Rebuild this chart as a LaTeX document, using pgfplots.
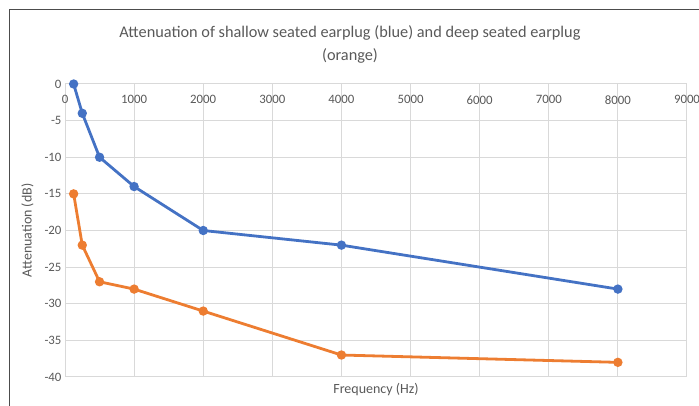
\documentclass[border=0pt]{standalone}
\usepackage{pgfplots}
\pgfplotsset{compat=1.18}
\usepackage{fontspec}
\setmainfont{Carlito}
\definecolor{xlblue}{HTML}{4472C4}
\definecolor{xlorange}{HTML}{ED7D31}
\definecolor{xlgrid}{HTML}{D9D9D9}
\definecolor{xltext}{HTML}{595959}
\begin{document}
\begin{tikzpicture}
\node[text=xltext, font=\fontsize{16.3}{23}\selectfont, align=center] at (350pt,362pt)
  {Attenuation of shallow seated earplug (blue) and deep seated earplug\\(orange)};
\begin{axis}[
  at={(65pt,29pt)}, anchor=south west,
  scale only axis, width=622pt, height=293pt,
  xmin=0, xmax=9000, ymin=-40, ymax=0,
  xtick={0,1000,...,9000}, ytick={-40,-35,...,0},
  xticklabel pos=upper,
  xticklabel style={anchor=north, yshift=-8pt},
  x tick label style={/pgf/number format/1000 sep={}},
  tick label style={font=\fontsize{12.8}{14}\selectfont, text=xltext},
  /pgf/number format/assume math mode=true,
  major tick length=0pt,
  grid=major, major grid style={xlgrid, line width=1pt},
  axis line style={xlgrid, line width=1pt},
  xlabel={Frequency (Hz)}, ylabel={Attenuation (dB)},
  label style={font=\fontsize{14}{16}\selectfont, text=xltext},
  xlabel style={at={(axis description cs:0.5,0)}, anchor=north, yshift=-3pt},
  ylabel style={at={(axis description cs:0,0.5)}, anchor=south, yshift=28pt},
  every axis plot/.append style={line width=2.8pt, mark=*, mark size=3.2pt},
]
\addplot[color=xlblue, mark options={fill=xlblue, draw=xlblue}] coordinates {
  (125,0) (250,-4) (500,-10) (1000,-14) (2000,-20) (4000,-22) (8000,-28)
};
\addplot[color=xlorange, mark options={fill=xlorange, draw=xlorange}] coordinates {
  (125,-15) (250,-22) (500,-27) (1000,-28) (2000,-31) (4000,-37) (8000,-38)
};
\end{axis}
% chart frame (only top and left edges are visible in the crop)
\draw[color=black!70, line width=1.2pt] (9.5pt,0pt) -- (9.5pt,396.5pt) -- (699pt,396.5pt);
\pgfresetboundingbox
\useasboundingbox (0pt,0pt) rectangle (699pt,406pt);
\end{tikzpicture}
\end{document}
